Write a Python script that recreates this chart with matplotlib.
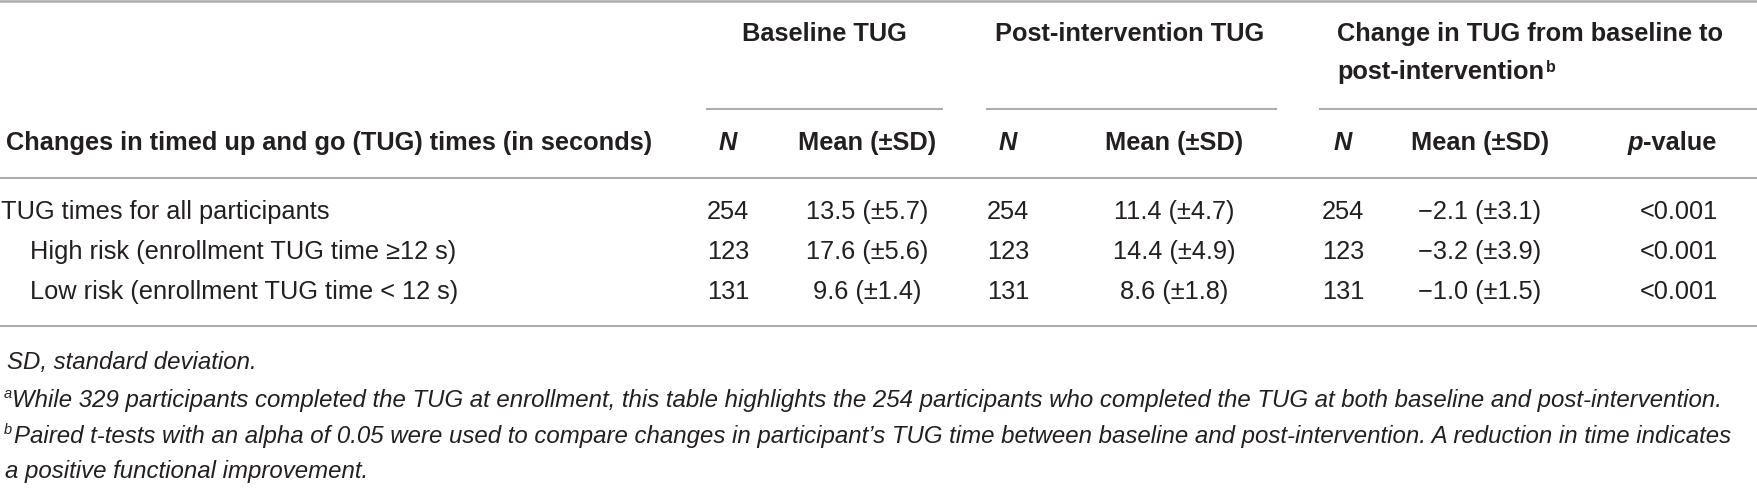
import matplotlib.pyplot as plt
from matplotlib.lines import Line2D

plt.rcParams['font.family'] = ['Liberation Sans', 'DejaVu Sans']

W, H = 1758, 488

# table contents
row_labels = ['TUG times for all participants',
              'High risk (enrollment TUG time \u226512 s)',
              'Low risk (enrollment TUG time < 12 s)']
row_indent = [0, 1, 1]
n_base = [254, 123, 131]
mean_base = [13.5, 17.6, 9.6]
sd_base = [5.7, 5.6, 1.4]
n_post = [254, 123, 131]
mean_post = [11.4, 14.4, 8.6]
sd_post = [4.7, 4.9, 1.8]
n_change = [254, 123, 131]
mean_change = [-2.1, -3.2, -1.0]
sd_change = [3.1, 3.9, 1.5]
p_values = ['<0.001', '<0.001', '<0.001']

group_headers = ['Baseline TUG', 'Post-intervention TUG']
col_headers = ['N', 'Mean (\u00b1SD)', 'N', 'Mean (\u00b1SD)', 'N', 'Mean (\u00b1SD)', 'p-value']
stub_header = 'Changes in timed up and go (TUG) times (in seconds)'

footnotes = ['While 329 participants completed the TUG at enrollment, this table highlights the 254 participants who completed the TUG at both baseline and post-intervention.',
             'Paired t-tests with an alpha of 0.05 were used to compare changes in participant\u2019s TUG time between baseline and post-intervention. A reduction in time indicates',
             'a positive functional improvement.']

fig = plt.figure(figsize=(W / 100, H / 100), dpi=100)
ink = '#231f20'
rule = '#adadad'
fs = 18.3
fs_note = 17.3


def px(x, y):
    return x / W, 1 - y / H


def put(x, y, s, **kw):
    kw.setdefault('color', ink)
    kw.setdefault('fontsize', fs)
    kw.setdefault('va', 'baseline')
    fig.text(*px(x, y), s, **kw)


def hline(x0, x1, y, lw=1.5):
    a, b = px(x0, y)
    c, d = px(x1, y)
    fig.add_artist(Line2D([a, c], [b, d], color=rule, lw=lw, transform=fig.transFigure))


def fmt(v):
    return f'{v:.1f}'.replace('-', '\u2212')


# rules
hline(0, W, 1.2, lw=1.8)
hline(707, 942, 109)
hline(987, 1276, 109)
hline(1320, W, 109)
hline(0, W, 178)
hline(0, W, 326)

# group headers
put(824, 41, group_headers[0], ha='center', weight='bold')
put(1130, 41, group_headers[1], ha='center', weight='bold')
put(1337, 41, 'Change in TUG from baseline to', ha='left', weight='bold')
put(1337, 79, 'post-intervention', ha='left', weight='bold')
put(1546, 72, 'b', ha='left', weight='bold', fontsize=11.5)

# column headers
col_x = [728, 867, 1008, 1174, 1343, 1480, 1679]
put(6, 150, stub_header, ha='left', weight='bold')
for x, s in zip(col_x, col_headers):
    if s == 'p-value':
        put(x - 36, 150, 'p', ha='right', weight='bold', style='italic')
        put(x - 36, 150, '-value', ha='left', weight='bold')
    elif s == 'N':
        put(x, 150, s, ha='center', weight='bold', style='italic')
    else:
        put(x, 150, s, ha='center', weight='bold')

# body rows
row_y = [219, 259, 299]
for i, y in enumerate(row_y):
    put(1 + 29 * row_indent[i], y, row_labels[i], ha='left')
    cells = [str(n_base[i]), f'{fmt(mean_base[i])} (\u00b1{sd_base[i]:.1f})',
             str(n_post[i]), f'{fmt(mean_post[i])} (\u00b1{sd_post[i]:.1f})',
             str(n_change[i]), f'{fmt(mean_change[i])} (\u00b1{sd_change[i]:.1f})',
             p_values[i]]
    for x, s in zip(col_x, cells):
        put(x, y, s, ha='center')

# footnotes
put(7, 369, 'SD, standard deviation.', ha='left', style='italic', fontsize=fs_note)
put(4, 398, 'a', ha='left', style='italic', fontsize=10.5)
put(12, 407, footnotes[0], ha='left', style='italic', fontsize=fs_note)
put(4, 434, 'b', ha='left', style='italic', fontsize=10.5)
put(14, 443, footnotes[1], ha='left', style='italic', fontsize=fs_note)
put(5, 478, footnotes[2], ha='left', style='italic', fontsize=fs_note)

fig.savefig('out.png', dpi=100, facecolor='white')
